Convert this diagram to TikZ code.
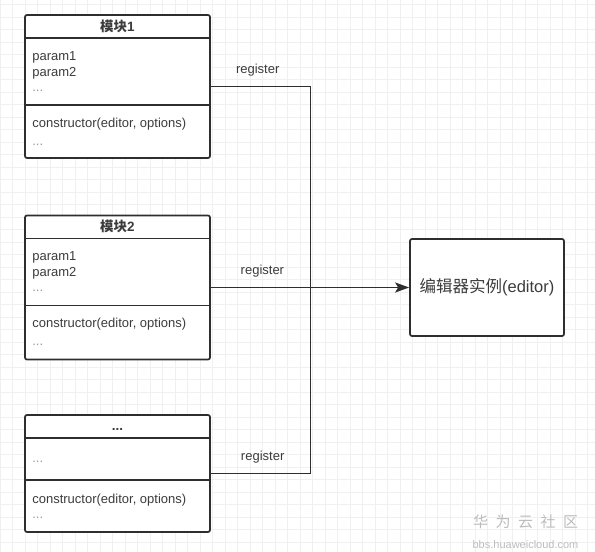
\documentclass[tikz,border=0pt]{standalone}
\usepackage{fontspec}
\setmainfont{Liberation Sans}
\newfontfamily\cjk{Noto Sans CJK SC}
\usetikzlibrary{arrows.meta}
\definecolor{linegray}{HTML}{2E2E2E}
\definecolor{textgray}{HTML}{3C3C3C}
\definecolor{dotgray}{HTML}{9A9A9A}
\definecolor{gridgray}{HTML}{F0F0F0}
\definecolor{markgray}{HTML}{BDBDBD}

\begin{document}
\begin{tikzpicture}[x=1pt,y=-1pt,font=\fontsize{13}{16}\selectfont,
  umlbox/.style={draw=linegray,line width=1.7pt,rounded corners=2pt,
    fill=white,minimum width=185pt,inner sep=0pt},
  sepline/.style={draw=linegray,line width=1.5pt},
  member/.style={anchor=base west,inner sep=0pt,text=textgray},
  more/.style={member,text=dotgray},
  heading/.style={anchor=base,inner sep=0pt,text=textgray,font=\fontsize{13.5}{16}\selectfont\bfseries},
  wire/.style={draw=linegray,line width=1.6pt},
  regtext/.style={anchor=base,inner sep=0pt,yshift=13pt,text=textgray}]

  \useasboundingbox (0,0) rectangle (595,552);
  \fill[white] (0,0) rectangle (595,552);

  % background grid
  \foreach \x in {0,12.5,...,595}
    \draw[gridgray,line width=0.6pt] (\x,0) -- (\x,552);
  \foreach \y in {4.5,17,...,552}
    \draw[gridgray,line width=0.6pt] (0,\y) -- (595,\y);

  % module 1
  \node[umlbox,minimum height=143pt] (m1) at (117.5,86.5) {};
  \draw[sepline] ([yshift=-24pt]m1.north west) -- ([yshift=-24pt]m1.north east);
  \draw[sepline] ([yshift=-91pt]m1.north west) -- ([yshift=-91pt]m1.north east);
  \node[heading] (m1-title) at ([yshift=-17pt]m1.north) {{\cjk 模块}1};
  \foreach \t/\d [count=\i] in {param1/46,param2/62}
    \node[member] (m1-p\i) at ([shift={(8pt,-\d pt)}]m1.north west) {\t};
  \node[more] (m1-pmore) at ([shift={(8pt,-77pt)}]m1.north west) {...};
  \node[member] (m1-ctor) at ([shift={(8pt,-113pt)}]m1.north west) {constructor(editor, options)};
  \node[more] (m1-fmore) at ([shift={(8pt,-131pt)}]m1.north west) {...};

  % module 2
  \node[umlbox,minimum height=144pt] (m2) at (117.5,287.5) {};
  \draw[sepline] ([yshift=-24pt]m2.north west) -- ([yshift=-24pt]m2.north east);
  \draw[sepline] ([yshift=-91pt]m2.north west) -- ([yshift=-91pt]m2.north east);
  \node[heading] (m2-title) at ([yshift=-17pt]m2.north) {{\cjk 模块}2};
  \foreach \t/\d [count=\i] in {param1/46,param2/62}
    \node[member] (m2-p\i) at ([shift={(8pt,-\d pt)}]m2.north west) {\t};
  \node[more] (m2-pmore) at ([shift={(8pt,-77pt)}]m2.north west) {...};
  \node[member] (m2-ctor) at ([shift={(8pt,-113pt)}]m2.north west) {constructor(editor, options)};
  \node[more] (m2-fmore) at ([shift={(8pt,-131pt)}]m2.north west) {...};

  % further modules
  \node[umlbox,minimum height=117pt] (m3) at (117.5,473.5) {};
  \draw[sepline] ([yshift=-24pt]m3.north west) -- ([yshift=-24pt]m3.north east);
  \draw[sepline] ([yshift=-66pt]m3.north west) -- ([yshift=-66pt]m3.north east);
  \node[heading] (m3-title) at ([yshift=-16pt]m3.north) {...};
  \node[more] (m3-pmore) at ([shift={(8pt,-48pt)}]m3.north west) {...};
  \node[member] (m3-ctor) at ([shift={(8pt,-89pt)}]m3.north west) {constructor(editor, options)};
  \node[more] (m3-fmore) at ([shift={(8pt,-104pt)}]m3.north west) {...};

  % editor instance
  \node[umlbox,minimum width=154pt,minimum height=97pt,text=textgray,
    font=\fontsize{16.5}{20}\selectfont] (editor) at (487,287.5)
    {{\cjk 编辑器实例}(editor)};

  % register connectors
  \coordinate (bus) at (310.5,287.5);
  \draw[wire] (m1.east) -- node[regtext,pos=0.47] (r1) {register} (m1.east -| bus)
    -- (m3.east -| bus) -- node[regtext,pos=0.48] (r3) {register} (m3.east);
  \draw[wire,-{Stealth[length=14pt,width=10pt,inset=3pt]}] (m2.east)
    -- node[regtext,pos=0.26] (r2) {register} (editor.west);

  % watermark
  \node[anchor=base,inner sep=0pt,text=markgray,font=\cjk\fontsize{15}{18}\selectfont]
    (wm) at (525.5,527) {华\hspace{7.5pt}为\hspace{7.5pt}云\hspace{7.5pt}社\hspace{7.5pt}区};
  \node[anchor=base,inner sep=0pt,text=markgray,font=\fontsize{11}{13}\selectfont]
    (wm-url) at (525.5,548) {bbs.huaweicloud.com};
\end{tikzpicture}
\end{document}
